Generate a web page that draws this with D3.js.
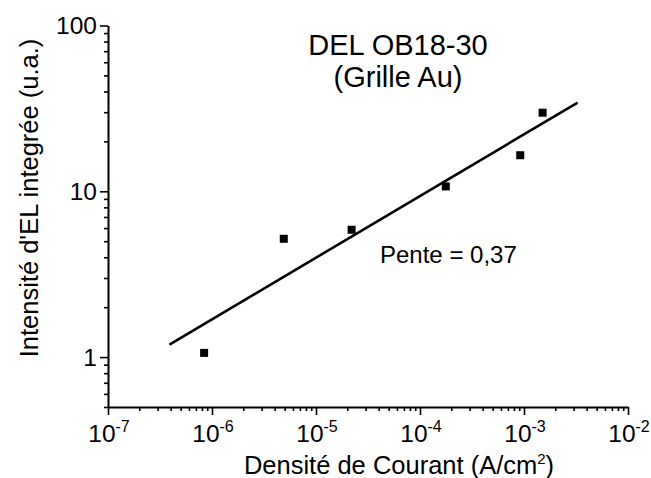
<!DOCTYPE html>
<html>
<head>
<meta charset="utf-8">
<script src="https://cdn.jsdelivr.net/npm/d3@7"></script>
<style>
  html, body { margin: 0; padding: 0; background: #fff; }
  svg { display: block; }
  text { font-family: "Liberation Sans", Arial, sans-serif; fill: #000; }
</style>
</head>
<body>
<svg id="chart" width="651" height="478"></svg>
<script>
// ---- data ----
const currentDensity = [8.4e-7, 4.9e-6, 2.2e-5, 1.77e-4, 9.2e-4, 1.51e-3];   // A/cm²
const intensity      = [1.06, 5.17, 5.86, 10.7, 16.5, 29.8];                 // u.a.
const fitX = [3.9e-7, 3.28e-3];
const fitY = [1.19, 34.3];
const xTickExponents = [-7, -6, -5, -4, -3, -2];
const yTickValues = [1, 10, 100];
const titleLines = ["DEL OB18-30", "(Grille Au)"];
const slopeLabel = "Pente = 0,37";
const xLabel = "Densité de Courant (A/cm";
const yLabel = "Intensité d'EL integrée (u.a.)";

// ---- layout ----
const svg = d3.select("#chart");
const x = d3.scaleLog().domain([1e-7, 1e-2]).range([108, 628]);
const y = d3.scaleLog().domain([0.5, 100]).range([407, 25.5]);

function minorTicks(lo, hi) {
  const out = [];
  for (let e = Math.floor(Math.log10(lo)); e <= Math.ceil(Math.log10(hi)); e++) {
    for (let m = 2; m <= 9; m++) {
      const v = m * Math.pow(10, e);
      if (v >= lo * 0.999 && v <= hi * 1.001) out.push(v);
    }
  }
  return out;
}

const fs = 24.5;

// x axis
const gx = svg.append("g").attr("transform", `translate(0,${y(0.5)})`);
gx.call(d3.axisBottom(x).tickValues(xTickExponents.map(e => Math.pow(10, e))).tickSize(8).tickSizeOuter(0).tickFormat(""));
gx.append("g").call(d3.axisBottom(x).tickValues(minorTicks(1e-7, 1e-2)).tickSize(4).tickSizeOuter(0).tickFormat(""));
gx.selectAll("path.domain").attr("stroke-width", 2).attr("stroke", "#000");
gx.selectAll(".tick line").attr("stroke-width", 1.6).attr("stroke", "#000");
gx.selectAll("g g path.domain").remove();

xTickExponents.forEach(e => {
  const t = svg.append("text")
    .attr("x", x(Math.pow(10, e)) + 1)
    .attr("y", 442)
    .attr("text-anchor", "middle")
    .attr("font-size", fs);
  t.append("tspan").text("10");
  t.append("tspan").attr("font-size", 16).attr("dy", -10).text(String(e));
});

// y axis
const gy = svg.append("g").attr("transform", `translate(${x(1e-7)},0)`);
gy.call(d3.axisLeft(y).tickValues(yTickValues).tickSize(8).tickSizeOuter(0).tickFormat(""));
gy.append("g").call(d3.axisLeft(y).tickValues(minorTicks(0.5, 100)).tickSize(4).tickSizeOuter(0).tickFormat(""));
gy.selectAll("path.domain").attr("stroke-width", 2).attr("stroke", "#000");
gy.selectAll(".tick line").attr("stroke-width", 1.6).attr("stroke", "#000");
gy.selectAll("g g path.domain").remove();

yTickValues.forEach(v => {
  svg.append("text")
    .attr("x", 97)
    .attr("y", y(v))
    .attr("dy", "0.36em")
    .attr("text-anchor", "end")
    .attr("font-size", fs)
    .text(String(v));
});

// axis titles
const xt = svg.append("text")
  .attr("x", 399).attr("y", 474)
  .attr("text-anchor", "middle")
  .attr("font-size", 25.5);
xt.append("tspan").text(xLabel);
xt.append("tspan").attr("font-size", 15).attr("dy", -10).text("2");
xt.append("tspan").attr("dy", 10).text(")");

svg.append("text")
  .attr("transform", `translate(38,198) rotate(-90)`)
  .attr("text-anchor", "middle")
  .attr("font-size", 25.5)
  .text(yLabel);

// fit line
svg.append("line")
  .attr("x1", x(fitX[0])).attr("y1", y(fitY[0]))
  .attr("x2", x(fitX[1])).attr("y2", y(fitY[1]))
  .attr("stroke", "#000").attr("stroke-width", 2.6);

// points
svg.append("g").selectAll("rect")
  .data(currentDensity.map((c, i) => [c, intensity[i]]))
  .join("rect")
  .attr("x", d => x(d[0]) - 4)
  .attr("y", d => y(d[1]) - 4)
  .attr("width", 8).attr("height", 8)
  .attr("fill", "#000");

// annotations
titleLines.forEach((s, i) => {
  svg.append("text")
    .attr("x", 398).attr("y", 55 + i * 32)
    .attr("text-anchor", "middle")
    .attr("font-size", 29)
    .text(s);
});

svg.append("text")
  .attr("x", 380).attr("y", 263)
  .attr("font-size", 24)
  .text(slopeLabel);
</script>
</body>
</html>
